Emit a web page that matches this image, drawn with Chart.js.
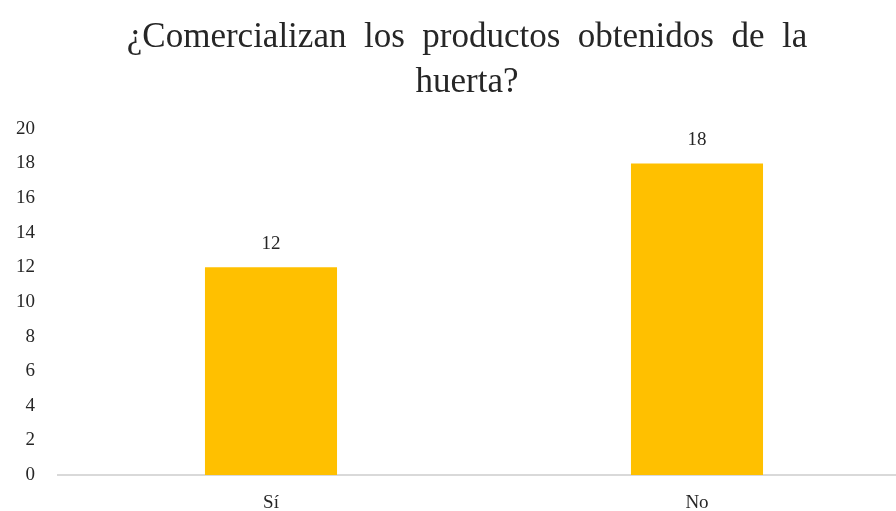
<!DOCTYPE html>
<html>
<head>
<meta charset="utf-8">
<script src="https://cdn.jsdelivr.net/npm/chart.js@4"></script>
<style>
  html, body { margin: 0; padding: 0; background: #fff; overflow: hidden; }
  #wrap { width: 934px; height: 511px; }
</style>
</head>
<body>
<div id="wrap"><canvas id="myChart"></canvas></div>
<script>
const categories = ['Sí', 'No'];
const values = [12, 18];
const yTicks = [0, 2, 4, 6, 8, 10, 12, 14, 16, 18, 20];

const serif = "'Liberation Serif', 'Times New Roman', serif";
const textColor = '#262626';

// value labels over the bars
const valueLabels = {
    id: 'valueLabels',
    afterDatasetsDraw(chart) {
        const c = chart.ctx;
        const meta = chart.getDatasetMeta(0);
        c.save();
        c.font = '19px ' + serif;
        c.fillStyle = textColor;
        c.textAlign = 'center';
        c.textBaseline = 'middle';
        meta.data.forEach((bar, i) => {
            c.fillText(values[i], bar.x, bar.y - 23);
        });
        c.restore();
    }
};

const ctx = document.getElementById('myChart');

new Chart(ctx, {
    type: 'bar',
    data: {
        labels: categories,
        datasets: [{
            data: values,
            backgroundColor: '#FFC000',
            categoryPercentage: 1,
            barPercentage: 0.31
        }]
    },
    options: {
        responsive: true,
        maintainAspectRatio: false,
        animation: false,
        layout: { padding: { left: 0, right: 0, top: 16, bottom: 0 } },
        plugins: {
            legend: { display: false },
            tooltip: { enabled: false },
            title: {
                display: true,
                text: ['¿Comercializan  los  productos  obtenidos  de  la', 'huerta?'],
                color: textColor,
                font: { family: serif, size: 35, weight: 'normal', lineHeight: 1.27 },
                padding: { top: 0, bottom: 24 }
            }
        },
        scales: {
            x: {
                afterFit(axis) { axis.height = 36; },
                grid: { display: false },
                border: { color: '#d9d9d9', width: 2 },
                ticks: { color: textColor, font: { family: serif, size: 19 }, padding: 9 }
            },
            y: {
                min: 0,
                max: 20,
                afterBuildTicks(axis) {
                    axis.ticks = yTicks.map(v => ({ value: v }));
                },
                afterFit(axis) { axis.width = 58; },
                grid: { display: false, drawTicks: false },
                border: { display: false },
                ticks: { color: textColor, font: { family: serif, size: 19 }, padding: 23 }
            },
            // empty spacer on the right so the plot keeps its width
            ySpacer: {
                type: 'linear',
                position: 'right',
                afterFit(axis) { axis.width = 24; },
                grid: { display: false },
                border: { display: false },
                ticks: { display: false }
            }
        }
    },
    plugins: [valueLabels]
});
</script>
</body>
</html>
